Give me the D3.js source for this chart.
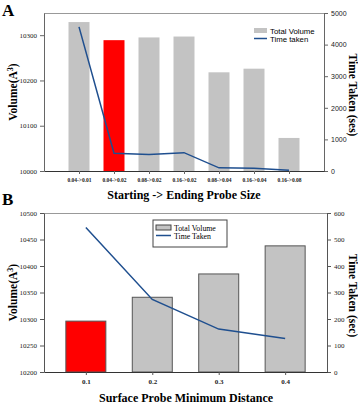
<!DOCTYPE html>
<html>
<head>
<meta charset="utf-8">
<script src="https://cdn.jsdelivr.net/npm/d3@7"></script>
<style>
  body { margin: 0; background: #fff; }
  svg { display: block; }
  .serif { font-family: "Liberation Serif", "DejaVu Serif", serif; }
  .sans { font-family: "Liberation Sans", Arial, sans-serif; }
</style>
</head>
<body>
<svg width="358" height="404"></svg>
<script>
// panel A data
var catsA = ["0.04->0.01", "0.04->0.02", "0.08->0.02", "0.16->0.02", "0.08->0.04", "0.16->0.04", "0.16->0.08"];
var volA = [10329, 10289, 10295, 10297, 10218, 10226, 10073];
var timeA = [4560, 560, 520, 580, 100, 90, 20];
var volTicksA = [10000, 10100, 10200, 10300];
var timeTicksA = [0, 1000, 2000, 3000, 4000, 5000];

// panel B data
var catsB = ["0.1", "0.2", "0.3", "0.4"];
var volB = [10296, 10341, 10385, 10438];
var timeB = [545, 274, 162, 126];
var volTicksB = [10200, 10250, 10300, 10350, 10400, 10450, 10500];
var timeTicksB = [0, 100, 200, 300, 400, 500, 600];

var svg = d3.select("svg");
var fmt = d3.format("d");

function drawPanel(p) {
  var g = svg.append("g");

  var x = d3.scalePoint()
    .domain(p.cats)
    .range([p.left, p.right])
    .padding(p.pad);

  var y = d3.scaleLinear()
    .domain(p.volDomain)
    .range([p.bottom, p.top]);

  var y2 = d3.scaleLinear()
    .domain(p.timeDomain)
    .range([p.bottom, p.top]);

  // top frame line
  g.append("line")
    .attr("x1", p.left).attr("x2", p.right)
    .attr("y1", p.top + 0.5).attr("y2", p.top + 0.5)
    .attr("stroke", p.frameColor);

  // bars
  g.selectAll("rect.bar")
    .data(p.vol)
    .enter().append("rect")
    .attr("class", "bar")
    .attr("x", function(d, i) { return x(p.cats[i]) - p.barW / 2; })
    .attr("width", p.barW)
    .attr("y", function(d) { return y(d); })
    .attr("height", function(d) { return p.bottom - y(d); })
    .attr("fill", function(d, i) { return i == p.red ? "#ff0000" : "#c3c3c3"; })
    .attr("stroke", p.barStroke)
    .attr("stroke-width", p.barStroke == "none" ? 0 : 1);

  // time line
  var line = d3.line()
    .x(function(d, i) { return x(p.cats[i]); })
    .y(function(d) { return y2(d); });

  g.append("path")
    .datum(p.time)
    .attr("d", line)
    .attr("fill", "none")
    .attr("stroke", "#1f4f8f")
    .attr("stroke-width", 1.5);

  // axes
  var leftAxis = g.append("g")
    .attr("class", "serif")
    .attr("transform", "translate(" + p.left + ",0)")
    .call(d3.axisLeft(y).tickValues(p.volTicks).tickFormat(fmt).tickSize(4).tickSizeOuter(0).tickPadding(3));

  var rightAxis = g.append("g")
    .attr("class", p.rightFont)
    .attr("transform", "translate(" + p.right + ",0)")
    .call(d3.axisRight(y2).tickValues(p.timeTicks).tickFormat(fmt).tickSize(4).tickSizeOuter(0).tickPadding(3));

  var bottomAxis = g.append("g")
    .attr("class", "serif")
    .attr("transform", "translate(0," + p.bottom + ")")
    .call(d3.axisBottom(x).tickSize(3).tickSizeOuter(0).tickPadding(4));

  [leftAxis, rightAxis, bottomAxis].forEach(function(a) {
    a.selectAll(".domain").attr("stroke", p.axisColor);
    a.selectAll(".tick line").attr("stroke", p.axisColor);
    a.selectAll("text").attr("fill", "#222").attr("font-size", 7);
  });
  bottomAxis.selectAll("text")
    .attr("font-weight", "bold")
    .attr("font-size", p.xTickSize);
  bottomAxis.select(".domain").attr("stroke", "#333");

  // panel letter
  g.append("text")
    .attr("class", "serif")
    .attr("x", 2).attr("y", p.letterY)
    .attr("font-size", 17).attr("font-weight", "bold")
    .text(p.letter);

  // axis titles
  var midY = (p.top + p.bottom) / 2;
  var vt = g.append("text")
    .attr("class", "serif")
    .attr("transform", "translate(17," + midY + ") rotate(-90)")
    .attr("text-anchor", "middle")
    .attr("font-size", 11.5).attr("font-weight", "bold");
  vt.append("tspan").text("Volume(A");
  vt.append("tspan").attr("dy", -4).attr("font-size", 8).text("3");
  vt.append("tspan").attr("dy", 4).text(")");

  g.append("text")
    .attr("class", "serif")
    .attr("transform", "translate(349," + (midY + 3) + ") rotate(90)")
    .attr("text-anchor", "middle")
    .attr("font-size", 11.5).attr("font-weight", "bold")
    .text(p.rightTitle);

  g.append("text")
    .attr("class", "serif")
    .attr("x", p.xTitleX).attr("y", p.xTitleY)
    .attr("text-anchor", "middle")
    .attr("font-size", 12).attr("font-weight", "bold")
    .text(p.xTitle);

  // legend
  var lg = g.append("g")
    .attr("transform", "translate(" + p.legX + "," + p.legY + ")");
  if (p.legBox) {
    lg.append("rect")
      .attr("x", -3).attr("y", -6)
      .attr("width", 74).attr("height", 27)
      .attr("fill", "#fff").attr("stroke", "#444");
  }
  lg.append("rect")
    .attr("x", 0).attr("y", -1)
    .attr("width", p.legSw).attr("height", 5)
    .attr("fill", "#c3c3c3")
    .attr("stroke", p.legBox ? "#444" : "none");
  lg.append("line")
    .attr("x1", 0).attr("x2", p.legSw)
    .attr("y1", 9.5).attr("y2", 9.5)
    .attr("stroke", "#1f4f8f").attr("stroke-width", 1.5);
  lg.append("text")
    .attr("class", p.legFont)
    .attr("x", p.legSw + 3).attr("y", 4.5)
    .attr("font-size", 7.8)
    .text("Total Volume");
  lg.append("text")
    .attr("class", p.legFont)
    .attr("x", p.legSw + 3).attr("y", 13.3)
    .attr("font-size", 7.8)
    .text(p.legTime);
}

drawPanel({
  cats: catsA, vol: volA, time: timeA, red: 1,
  volTicks: volTicksA, timeTicks: timeTicksA,
  volDomain: [10000, 10349], timeDomain: [0, 5000],
  left: 44, right: 324, top: 13, bottom: 171, pad: 1, barW: 21,
  frameColor: "#999", axisColor: "#666", barStroke: "none",
  rightFont: "sans", xTickSize: 5.5,
  letter: "A", letterY: 16,
  rightTitle: "Time Taken (ses)",
  xTitle: "Starting -> Ending Probe Size", xTitleX: 184, xTitleY: 199,
  legX: 254, legY: 29, legSw: 13, legBox: false, legFont: "sans", legTime: "Time taken"
});

drawPanel({
  cats: catsB, vol: volB, time: timeB, red: 0,
  volTicks: volTicksB, timeTicks: timeTicksB,
  volDomain: [10200, 10500], timeDomain: [0, 600],
  left: 44, right: 327, top: 213, bottom: 372, pad: 0.63, barW: 40,
  frameColor: "#999", axisColor: "#555", barStroke: "#555",
  rightFont: "serif", xTickSize: 7,
  letter: "B", letterY: 205,
  rightTitle: "Time Taken (sec)",
  xTitle: "Surface Probe Minimum Distance", xTitleX: 186, xTitleY: 402,
  legX: 156, legY: 226, legSw: 15, legBox: true, legFont: "serif", legTime: "Time Taken"
});
</script>
</body>
</html>
